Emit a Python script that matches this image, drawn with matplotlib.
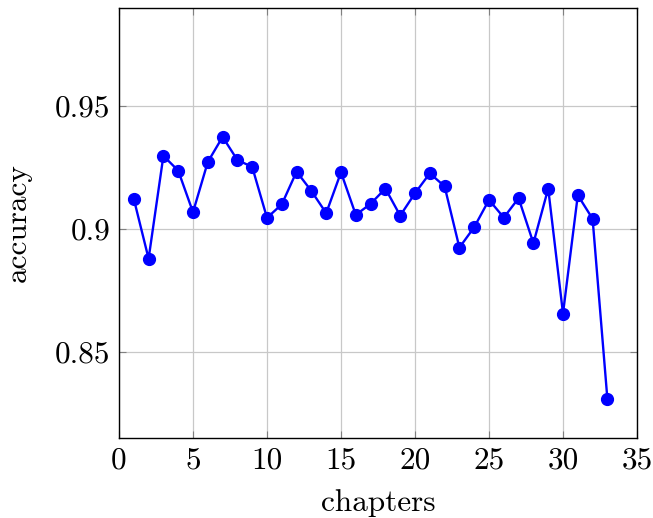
import matplotlib
matplotlib.use("Agg")
import matplotlib.pyplot as plt
from matplotlib.ticker import FuncFormatter

chapters = list(range(1, 34))
accuracy = [0.9122, 0.8879, 0.9297, 0.9237, 0.9068, 0.9272, 0.9374, 0.9280,
            0.9252, 0.9045, 0.9100, 0.9233, 0.9154, 0.9064, 0.9230, 0.9057,
            0.9102, 0.9164, 0.9054, 0.9145, 0.9226, 0.9173, 0.8924, 0.9007,
            0.9118, 0.9046, 0.9125, 0.8942, 0.9164, 0.8656, 0.9137, 0.9041,
            0.8308]
xticks = [0, 5, 10, 15, 20, 25, 30, 35]
yticks = [0.85, 0.9, 0.95]

plt.rcParams['font.family'] = ['cmr10', 'DejaVu Serif']
plt.rcParams['mathtext.fontset'] = 'cm'
plt.rcParams['axes.unicode_minus'] = False

fig = plt.figure(figsize=(6.53, 5.18), dpi=100)
ax = fig.add_axes([119/653, 1-438/518, (637-119)/653, (438-8)/518])

ax.plot(chapters, accuracy, color='#0000ff', lw=1.7, marker='o', ms=8.5,
        markeredgecolor='#0000ff', markerfacecolor='#0000ff', zorder=3)

ax.set_xlim(0, 35)
ax.set_ylim(0.815, 0.9898)
ax.set_xticks(xticks)
ax.set_yticks(yticks)
ax.yaxis.set_major_formatter(FuncFormatter(lambda v, p: f"{v:g}"))
ax.xaxis.set_major_formatter(FuncFormatter(lambda v, p: f"{v:g}"))
ax.grid(True, color='#c8c8c8', lw=0.9)
ax.set_axisbelow(True)
ax.tick_params(direction='in', length=5, width=0.8, color='#808080',
               top=True, right=True, labelsize=22.5, pad=6)
for s in ax.spines.values():
    s.set_linewidth(1.0)
    s.set_color('black')
ax.set_xlabel('chapters', fontsize=22.5, labelpad=11)
ax.set_ylabel('accuracy', fontsize=22.5, labelpad=17)

fig.savefig('out.png', dpi=100)
